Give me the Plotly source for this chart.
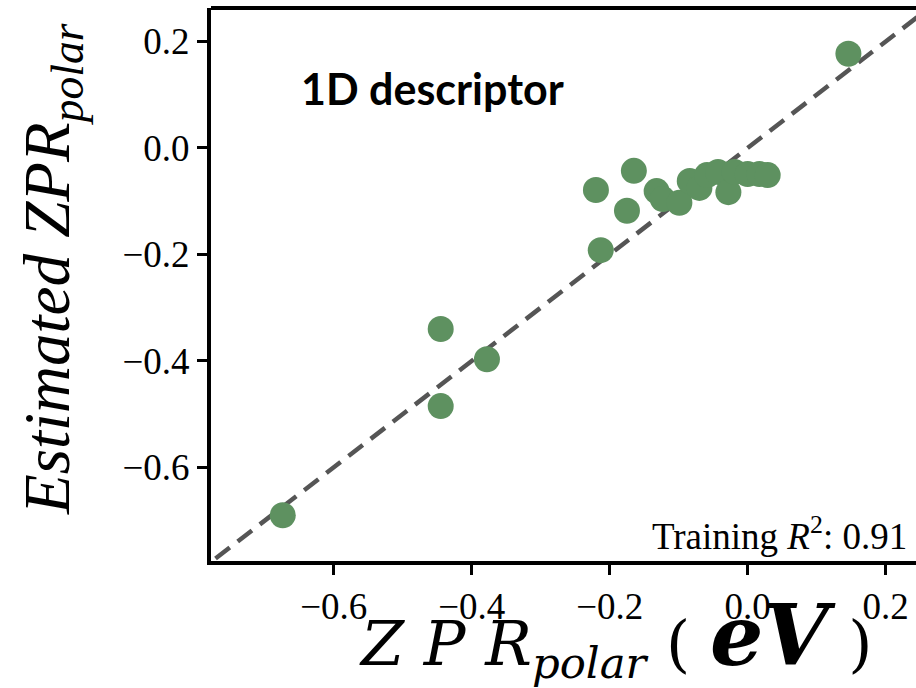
import plotly.graph_objects as go

# Data
zpr_polar = [-0.674, -0.445, -0.445, -0.378, -0.213, -0.220, -0.175, -0.165, -0.132, -0.123,
             -0.099, -0.084, -0.070, -0.059, -0.043, -0.028, -0.019, 0.000, 0.017, 0.029, 0.146]
zpr_estimated = [-0.690, -0.340, -0.485, -0.397, -0.192, -0.079, -0.118, -0.043, -0.081, -0.096,
                 -0.103, -0.062, -0.075, -0.051, -0.045, -0.083, -0.045, -0.049, -0.049, -0.051, 0.177]
diag = [-0.9, 0.4]
tick_vals = [-0.6, -0.4, -0.2, 0.0, 0.2]
tick_text = ["\u22120.6", "\u22120.4", "\u22120.2", "0.0", "0.2"]
x_range = [-0.778, 0.244]
y_range = [-0.776, 0.263]

SERIF = "Liberation Serif"

fig = go.Figure()
fig.add_trace(go.Scatter(x=diag, y=diag, mode="lines",
                         line=dict(color="#555555", width=4.5, dash="18px,10px"),
                         hoverinfo="skip", showlegend=False))
fig.add_trace(go.Scatter(x=zpr_polar, y=zpr_estimated, mode="markers",
                         marker=dict(color="#5e9160", size=26, line=dict(width=0)),
                         showlegend=False))

axis_common = dict(showgrid=False, zeroline=False, showline=True, linecolor="black",
                   linewidth=4, ticks="outside", ticklen=10, tickwidth=3, tickcolor="black",
                   tickvals=tick_vals, ticktext=tick_text,
                   tickfont=dict(family=SERIF, size=37, color="black"))
fig.update_xaxes(range=x_range, **axis_common)
fig.update_yaxes(range=y_range, **axis_common)

fig.add_shape(type="line", xref="paper", yref="paper", x0=0, x1=1.2, y0=1, y1=1,
              line=dict(color="black", width=4))

fig.add_annotation(text="<b>1D descriptor</b>", xref="paper", yref="paper", x=0.3135, y=0.855,
                   xanchor="center", yanchor="middle", showarrow=False,
                   font=dict(family="Lato", size=43, color="black"))
fig.add_annotation(text="Training <i>R</i><sup>2</sup>: 0.91", xref="paper", yref="paper",
                   x=0.6225, y=0.049, xanchor="left", yanchor="middle", showarrow=False,
                   font=dict(family=SERIF, size=37, color="black"))
fig.add_annotation(text="<i>Estimated ZPR<sub>polar</sub></i>", xref="paper", yref="paper",
                   x=-0.2255, y=0.528, xanchor="center", yanchor="middle", textangle=-90,
                   showarrow=False,
                   font=dict(family=SERIF, size=65, color="black"))
fig.add_annotation(text="<i>Z P R<sub>polar</sub></i> ( <span style='font-size:84px'><b><i>eV</i></b></span> )",
                   xref="paper", yref="paper",
                   x=0.574, y=-0.137, xanchor="center", yanchor="middle", showarrow=False,
                   font=dict(family="DejaVu Serif", size=62, color="black"))

fig.update_layout(width=916, height=688, margin=dict(l=211, r=0, t=8, b=127),
                  font=dict(family=SERIF, color="black"),
                  plot_bgcolor="white", paper_bgcolor="white")
fig.write_html("out.html")
